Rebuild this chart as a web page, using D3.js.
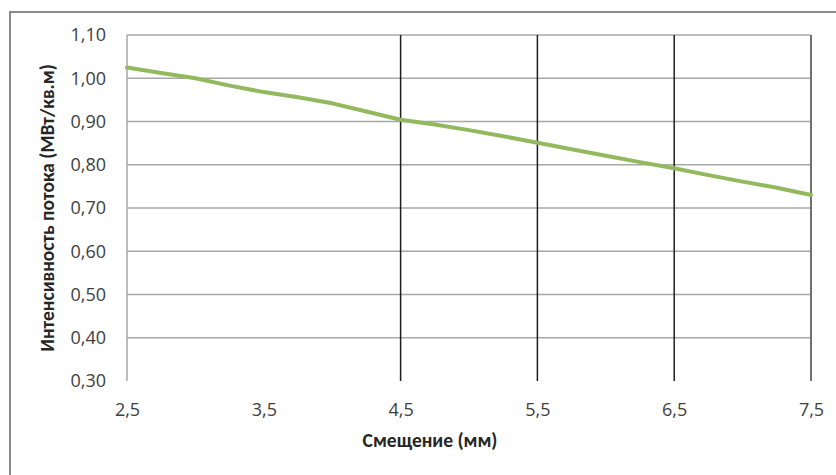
<!DOCTYPE html>
<html>
<head>
<meta charset="utf-8">
<script src="https://cdn.jsdelivr.net/npm/d3@7"></script>
<style>
  html, body { margin: 0; padding: 0; background: #fff; }
  svg { display: block; }
</style>
</head>
<body>
<svg id="chart" width="836" height="475"></svg>
<script>
// Displacement (mm) and heat flux intensity (MW/m²)
const displacement = [2.5, 2.75, 3.0, 3.25, 3.5, 3.75, 4.0, 4.25, 4.5, 4.75, 5.0,
                      5.25, 5.5, 5.75, 6.0, 6.25, 6.5, 6.75, 7.0, 7.25, 7.5];
const intensity = [1.025, 1.012, 1.000, 0.983, 0.968, 0.956, 0.942, 0.923, 0.904, 0.893, 0.880,
                   0.866, 0.851, 0.836, 0.821, 0.806, 0.792, 0.776, 0.761, 0.747, 0.730];
const xTicks = [2.5, 3.5, 4.5, 5.5, 6.5, 7.5];
const yTicks = [0.3, 0.4, 0.5, 0.6, 0.7, 0.8, 0.9, 1.0, 1.1];
const dropLines = [4.5, 5.5, 6.5];
const xTitle = "Смещение (мм)";
const yTitle = "Интенсивность потока (МВт/кв.м)";

const svg = d3.select("#chart");
const plot = { left: 127, right: 811, top: 35, bottom: 381 };

const x = d3.scaleLinear().domain([2.5, 7.5]).range([plot.left, plot.right]);
const y = d3.scaleLinear().domain([0.3, 1.1]).range([plot.bottom, plot.top]);

const ru = d3.formatLocale({ decimal: ",", thousands: " ", grouping: [3], currency: ["", ""] });
const fmtY = ru.format(".2f");
const fmtX = ru.format(".1f");
const tickFont = "'Open Sans', Carlito, sans-serif";
const titleFont = "Carlito, Lato, 'Open Sans', sans-serif";

// outer chart border
svg.append("path")
  .attr("d", "M10,476 L10,12 L837,12")
  .attr("fill", "none").attr("stroke", "#8a8a8a").attr("stroke-width", 2);

// horizontal gridlines
svg.append("g")
  .selectAll("line").data(yTicks.filter(v => v > 0.3)).join("line")
  .attr("x1", plot.left).attr("x2", plot.right)
  .attr("y1", d => y(d)).attr("y2", d => y(d))
  .attr("stroke", "#a8a8a8").attr("stroke-width", 1.5);

// vertical drop lines
svg.append("g")
  .selectAll("line").data(dropLines).join("line")
  .attr("x1", d => x(d)).attr("x2", d => x(d))
  .attr("y1", plot.top).attr("y2", plot.bottom)
  .attr("stroke", "#1e1e1e").attr("stroke-width", 1.5);

// left and right plot edges
svg.append("line")
  .attr("x1", x(2.5)).attr("x2", x(2.5)).attr("y1", plot.top).attr("y2", plot.bottom)
  .attr("stroke", "#a8a8a8").attr("stroke-width", 1.5);
svg.append("line")
  .attr("x1", x(7.5)).attr("x2", x(7.5)).attr("y1", plot.top).attr("y2", plot.bottom)
  .attr("stroke", "#707070").attr("stroke-width", 2);

// y tick labels
const yAxis = d3.axisLeft(y).tickValues(yTicks).tickFormat(fmtY).tickSize(0).tickPadding(21);
svg.append("g").attr("transform", `translate(${plot.left},0)`).call(yAxis)
  .call(g => g.select(".domain").remove())
  .selectAll("text")
  .attr("font-family", tickFont).attr("font-size", 18).attr("fill", "#404040");

// x tick labels
const xAxis = d3.axisBottom(x).tickValues(xTicks).tickFormat(fmtX).tickSize(0).tickPadding(22);
svg.append("g").attr("transform", `translate(0,${plot.bottom})`).call(xAxis)
  .call(g => g.select(".domain").remove())
  .selectAll("text")
  .attr("font-family", tickFont).attr("font-size", 18).attr("fill", "#404040");

// data line
const line = d3.line().x((d, i) => x(displacement[i])).y(d => y(d));
svg.append("path")
  .datum(intensity)
  .attr("d", line)
  .attr("fill", "none")
  .attr("stroke", "#93b95f")
  .attr("stroke-width", 4)
  .attr("stroke-linejoin", "round")
  .attr("stroke-linecap", "round");

// axis titles
svg.append("text")
  .attr("x", 430).attr("y", 447)
  .attr("text-anchor", "middle")
  .attr("font-family", titleFont).attr("font-size", 19.5).attr("font-weight", "bold")
  .attr("fill", "#262626")
  .text(xTitle);

svg.append("text")
  .attr("transform", `translate(54,208) rotate(-90)`)
  .attr("text-anchor", "middle")
  .attr("font-family", titleFont).attr("font-size", 19.5).attr("font-weight", "bold")
  .attr("fill", "#262626")
  .text(yTitle);
</script>
</body>
</html>
